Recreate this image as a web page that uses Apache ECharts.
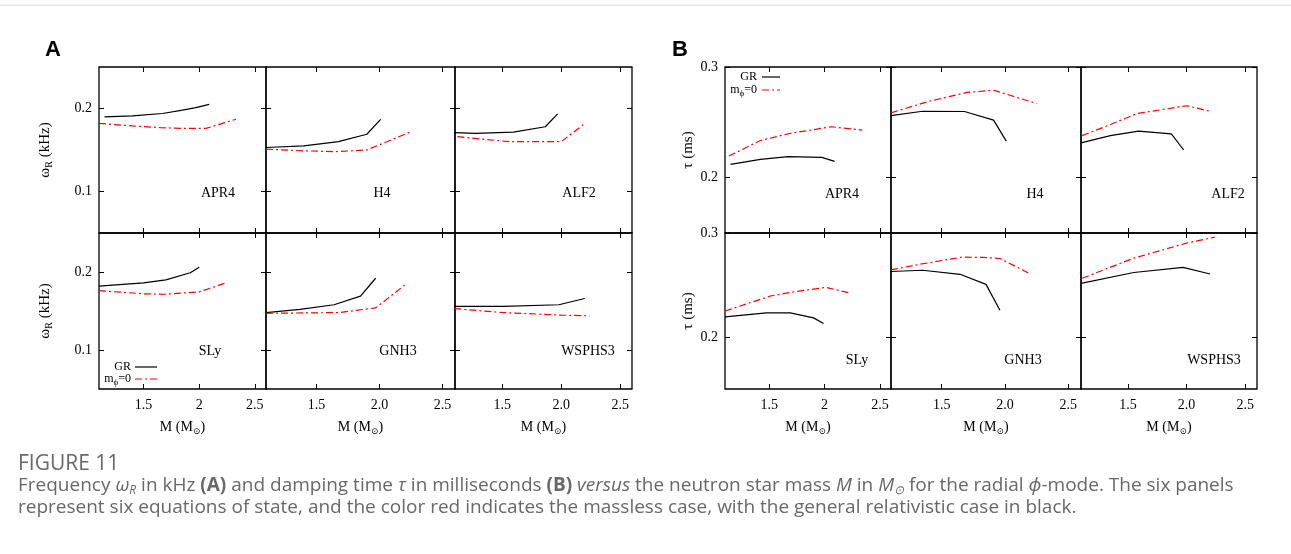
<!DOCTYPE html>
<html><head><meta charset="utf-8">
<script src="https://cdn.jsdelivr.net/npm/echarts@6/dist/echarts.min.js"></script>
<style>html,body{margin:0;padding:0;background:#fff}#c{width:1291px;height:554px}</style>
</head><body><div id="c"></div>
<script>
// ---------- data ----------
const eosNames = ['APR4','H4','ALF2','SLy','GNH3','WSPHS3'];
const xTicks = [1.5, 2, 2.5];
const omegaTicks = [0.1, 0.2];
const tauTicks = [0.2, 0.3];

// Panel A : omega_R (kHz) vs M (Msun)
const omegaGR_APR4   = [[1.15,0.190],[1.4,0.191],[1.67,0.194],[1.85,0.198],[1.97,0.201],[2.09,0.205]];
const omegaM0_APR4   = [[1.1,0.182],[1.4,0.179],[1.65,0.177],[1.85,0.176],[2.06,0.176],[2.33,0.187]];
const omegaGR_H4     = [[1.1,0.153],[1.4,0.155],[1.675,0.160],[1.9,0.169],[2.01,0.187]];
const omegaM0_H4     = [[1.1,0.151],[1.4,0.149],[1.65,0.148],[1.9,0.150],[2.25,0.172]];
const omegaGR_ALF2   = [[1.095,0.171],[1.27,0.170],[1.595,0.1716],[1.865,0.178],[1.97,0.1936]];
const omegaM0_ALF2   = [[1.12,0.166],[1.56,0.160],[2.0,0.160],[2.2,0.182]];
const omegaGR_SLy    = [[1.1,0.182],[1.5,0.186],[1.7,0.190],[1.92,0.199],[2.0,0.206]];
const omegaM0_SLy    = [[1.1,0.176],[1.51,0.172],[1.69,0.1715],[2.0,0.1745],[2.24,0.186]];
const omegaGR_GNH3   = [[1.1,0.148],[1.37,0.152],[1.64,0.158],[1.85,0.169],[1.97,0.192]];
const omegaM0_GNH3   = [[1.1,0.147],[1.68,0.148],[1.97,0.154],[2.2,0.183]];
const omegaGR_WSPHS3 = [[1.095,0.156],[1.51,0.156],[1.98,0.158],[2.2,0.166]];
const omegaM0_WSPHS3 = [[1.095,0.153],[1.51,0.148],[2.0,0.1447],[2.24,0.1438]];

// Panel B : tau (ms) vs M (Msun)
const tauGR_APR4   = [[1.15,0.212],[1.42,0.2166],[1.67,0.219],[1.975,0.2183],[2.09,0.2147]];
const tauM0_APR4   = [[1.135,0.2195],[1.42,0.2336],[1.69,0.240],[2.06,0.246],[2.34,0.243]];
const tauGR_H4     = [[1.1,0.256],[1.35,0.260],[1.68,0.2598],[1.91,0.252],[2.01,0.233]];
const tauM0_H4     = [[1.1,0.2586],[1.40,0.269],[1.70,0.277],[1.91,0.279],[2.25,0.267]];
const tauGR_ALF2   = [[1.1,0.2315],[1.35,0.238],[1.59,0.242],[1.87,0.2396],[1.975,0.225]];
const tauM0_ALF2   = [[1.11,0.238],[1.35,0.248],[1.58,0.258],[2.0,0.265],[2.2,0.260]];
const tauGR_SLy    = [[1.1,0.2194],[1.475,0.2232],[1.69,0.2232],[1.90,0.2184],[1.99,0.213]];
const tauM0_SLy    = [[1.1,0.225],[1.51,0.2394],[1.725,0.2435],[2.01,0.2477],[2.24,0.242]];
const tauGR_GNH3   = [[1.1,0.263],[1.35,0.2642],[1.645,0.2603],[1.85,0.2506],[1.96,0.2258]];
const tauM0_GNH3   = [[1.1,0.2645],[1.33,0.270],[1.66,0.2768],[1.83,0.2765],[1.96,0.2755],[2.2,0.2606]];
const tauGR_WSPHS3 = [[1.1,0.2516],[1.55,0.262],[1.97,0.267],[2.2,0.2606]];
const tauM0_WSPHS3 = [[1.11,0.2565],[1.55,0.2758],[2.0,0.2903],[2.24,0.296]];

const omegaGR = [omegaGR_APR4, omegaGR_H4, omegaGR_ALF2, omegaGR_SLy, omegaGR_GNH3, omegaGR_WSPHS3];
const omegaM0 = [omegaM0_APR4, omegaM0_H4, omegaM0_ALF2, omegaM0_SLy, omegaM0_GNH3, omegaM0_WSPHS3];
const tauGR = [tauGR_APR4, tauGR_H4, tauGR_ALF2, tauGR_SLy, tauGR_GNH3, tauGR_WSPHS3];
const tauM0 = [tauM0_APR4, tauM0_H4, tauM0_ALF2, tauM0_SLy, tauM0_GNH3, tauM0_WSPHS3];

// ---------- layout ----------
const SERIF = '"Liberation Serif","DejaVu Serif",serif';
const panels = [
  {key:'A', lefts:[99,266,455], widths:[167,189,177], yMin:0.05, yMax:0.25, ticks:omegaTicks,
   gr:omegaGR, m0:omegaM0, yName:'{a|ω}{s|R}{a| (kHz)}', yGap:45},
  {key:'B', lefts:[725,891,1081], widths:[166,190,176], yMin:0.15, yMax:0.3, ticks:tauTicks,
   gr:tauGR, m0:tauM0, yName:'{a|τ (ms)}', yGap:29}
];
const rowTops = [67,233], rowHeights = [166,156];

const grid=[], xAxis=[], yAxis=[], series=[];
const richAxis = {
  a:{fontFamily:SERIF, fontSize:15, color:'#000'},
  s:{fontFamily:SERIF, fontSize:10, color:'#000', padding:[8,0,0,0]}
};
panels.forEach((p)=>{
  for(let r=0;r<2;r++){
    for(let c=0;c<3;c++){
      const k = grid.length;
      const e = r*3+c;
      grid.push({left:p.lefts[c], top:rowTops[r], width:p.widths[c], height:rowHeights[r],
        show:true, borderColor:'#000', borderWidth:1.3, backgroundColor:'transparent'});
      const fmt = c===0 ? (v=>String(v)) : (v=>v.toFixed(1));
      xAxis.push({gridIndex:k, type:'value', min:1.1, max:2.6, position:'bottom',
        axisLine:{show:false}, splitLine:{show:false},
        axisTick:{show:true, inside:true, length:5, customValues:xTicks, lineStyle:{color:'#000',width:1}},
        axisLabel:{show:r===1, customValues:xTicks, formatter:fmt, fontFamily:SERIF, fontSize:14, color:'#000', margin:9},
        name: r===1 ? '{a|M (M}{s|⊙}{a|)}' : '', nameLocation:'middle', nameGap:30,
        nameTextStyle:{rich:{a:{fontFamily:SERIF, fontSize:14, color:'#000'}, s:{fontFamily:SERIF, fontSize:9, color:'#000', padding:[8,0,0,0]}}}
      });
      xAxis.push({gridIndex:k, type:'value', min:1.1, max:2.6, position:'top',
        axisLine:{show:false}, splitLine:{show:false},
        axisTick:{show:true, inside:true, length:5, customValues:xTicks, lineStyle:{color:'#000',width:1}},
        axisLabel:{show:false}});
      yAxis.push({gridIndex:k, type:'value', min:p.yMin, max:p.yMax, position:'left',
        axisLine:{show:false}, splitLine:{show:false},
        axisTick:{show:true, inside:true, length:5, customValues:p.ticks, lineStyle:{color:'#000',width:1}},
        axisLabel:{show:c===0, customValues:p.ticks, formatter:v=>v.toFixed(1), fontFamily:SERIF, fontSize:14, color:'#000', margin:7},
        name: c===0 ? p.yName : '', nameLocation:'middle', nameRotate:90, nameGap:p.yGap,
        nameTextStyle:{rich:richAxis}
      });
      yAxis.push({gridIndex:k, type:'value', min:p.yMin, max:p.yMax, position:'right',
        axisLine:{show:false}, splitLine:{show:false},
        axisTick:{show:true, inside:true, length:5, customValues:p.ticks, lineStyle:{color:'#000',width:1}},
        axisLabel:{show:false}});
      series.push({type:'line', name:'GR '+eosNames[e], xAxisIndex:2*k, yAxisIndex:2*k, data:p.gr[e],
        showSymbol:false, symbol:'none', lineStyle:{color:'#000', width:1.2}, silent:true});
      series.push({type:'line', name:'m0 '+eosNames[e], xAxisIndex:2*k, yAxisIndex:2*k, data:p.m0[e],
        showSymbol:false, symbol:'none', lineStyle:{color:'#ff0000', width:1.2, type:[7,3,2,3]}, silent:true});
    }
  }
});

// labels of equations of state (text)
const eosLabelPos = {
  A:[[218,193],[382,193],[579,193],[210,351],[398,351],[588,351]],
  B:[[842,194],[1035,194],[1228,194],[857,360],[1023,360],[1214,360]]
};
const graphic = [];
graphic.push({type:'line', shape:{x1:0,y1:5,x2:1291,y2:5}, style:{stroke:'#d8d8d8', lineWidth:1}});
['A','B'].forEach(key=>{
  eosLabelPos[key].forEach((pos,i)=>{
    graphic.push({type:'text', x:pos[0], y:pos[1], style:{text:eosNames[i], font:'14px '+SERIF, fill:'#000', textAlign:'center', textVerticalAlign:'middle'}});
  });
});
graphic.push({type:'text', x:45, y:50, style:{text:'A', font:'bold 22px "Liberation Sans",Arial,sans-serif', fill:'#000', textAlign:'left', textVerticalAlign:'middle'}});
graphic.push({type:'text', x:672, y:50, style:{text:'B', font:'bold 22px "Liberation Sans",Arial,sans-serif', fill:'#000', textAlign:'left', textVerticalAlign:'middle'}});

// legends
function legend(xr, yGR, yM0, x1, x2){
  graphic.push({type:'text', x:xr, y:yGR, style:{text:'GR', font:'12px '+SERIF, fill:'#000', textAlign:'right', textVerticalAlign:'middle'}});
  graphic.push({type:'line', shape:{x1:x1,y1:yGR,x2:x2,y2:yGR}, style:{stroke:'#000', lineWidth:1.2}});
  graphic.push({type:'text', x:xr, y:yM0, style:{rich:{a:{font:'12px '+SERIF, fill:'#000'}, s:{font:'9px '+SERIF, fill:'#000', padding:[7,0,0,0]}}, text:'{a|m}{s|ϕ}{a|=0}', textAlign:'right', textVerticalAlign:'middle'}});
  graphic.push({type:'line', shape:{x1:x1,y1:yM0,x2:x2,y2:yM0}, style:{stroke:'#ff0000', lineWidth:1.2, lineDash:[7,3,2,3]}});
}
legend(131, 367, 379, 135, 157);
legend(757, 77, 90, 762, 780);

// caption
const CAP = '"Open Sans","Noto Sans",sans-serif';
const CS = 19;
const CAPCOL = '#686868';
graphic.push({type:'text', x:18, y:464, style:{text:'FIGURE 11', font:'21px '+CAP, fill:CAPCOL, textVerticalAlign:'middle'}});
const capRich = {
  n:{font:CS+'px '+CAP, fill:CAPCOL},
  i:{font:'italic '+CS+'px '+CAP, fill:CAPCOL},
  b:{font:'bold '+CS+'px '+CAP, fill:CAPCOL},
  s:{font:'italic 12px '+CAP, fill:CAPCOL, padding:[9,0,0,0]}
};
graphic.push({type:'text', x:18, y:486, style:{rich:capRich, textVerticalAlign:'middle',
  text:'{n|Frequency }{i|ω}{s|R}{n| in kHz }{b|(A)}{n| and damping time }{i|τ}{n| in milliseconds }{b|(B)}{i| versus}{n| the neutron star mass }{i|M}{n| in }{i|M}{s|⊙}{n| for the radial }{i|ϕ}{n|-mode. The six panels}'}});
graphic.push({type:'text', x:18, y:508, style:{rich:capRich, textVerticalAlign:'middle',
  text:'{n|represent six equations of state, and the color red indicates the massless case, with the general relativistic case in black.}'}});

const chart = echarts.init(document.getElementById('c'), null, {renderer:'canvas'});
chart.setOption({animation:false, backgroundColor:'#fff', grid, xAxis, yAxis, series, graphic});
</script></body></html>
